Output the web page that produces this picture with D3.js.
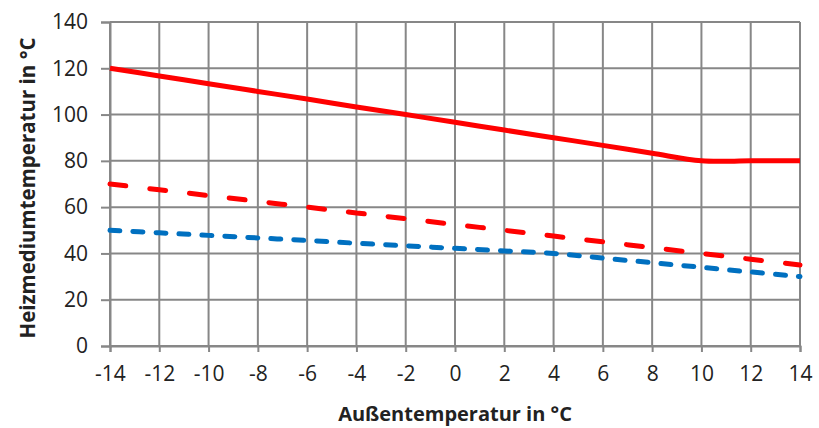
<!DOCTYPE html>
<html>
<head>
<meta charset="utf-8">
<script src="https://cdn.jsdelivr.net/npm/d3@7"></script>
<style>
  body { margin: 0; background: #fff; }
  svg text { font-family: 'Open Sans', 'Liberation Sans', sans-serif; fill: #222; }
</style>
</head>
<body>
<div class="chart"></div>
<script>
// Heizkurve: supply temperature vs outside temperature
var outside = [-14, -12, -10, -8, -6, -4, -2, 0, 2, 4, 6, 8, 10, 12, 14]
var vorlaufHoch = [120, 116.7, 113.3, 110, 106.7, 103.3, 100, 96.7, 93.3, 90, 86.7, 83.3, 80, 80, 80]
var vorlaufMittel = [70, 67.5, 65, 62.5, 60, 57.5, 55, 52.5, 50, 47.5, 45, 42.5, 40, 37.5, 35]
var vorlaufNiedrig = [50, 48.9, 47.8, 46.7, 45.6, 44.4, 43.3, 42.2, 41.1, 40, 38, 36, 34, 32, 30]
var xTicks = [-14, -12, -10, -8, -6, -4, -2, 0, 2, 4, 6, 8, 10, 12, 14]
var yTicks = [0, 20, 40, 60, 80, 100, 120, 140]

var series = [
  {values: vorlaufHoch, color: '#ff0000', dash: null},
  {values: vorlaufMittel, color: '#ff0000', dash: '16,24'},
  {values: vorlaufNiedrig, color: '#0070c0', dash: '10,13'}
]

var W = 819, H = 428
var margin = {top: 22, right: 19, bottom: 82, left: 110}
var width = W - margin.left - margin.right
var height = H - margin.top - margin.bottom

var svg = d3.select('.chart').append('svg').attr('width', W).attr('height', H)
var g = svg.append('g').attr('transform', 'translate(' + margin.left + ',' + margin.top + ')')

var x = d3.scaleLinear().domain([-14, 14]).range([0, width])
var y = d3.scaleLinear().domain([0, 140]).range([height, 0])

// ---- grid ----
var gridColor = '#878787'
g.append('g').selectAll('line').data(yTicks).join('line')
  .attr('x1', 0).attr('x2', width).attr('y1', y).attr('y2', y)
  .attr('stroke', gridColor).attr('stroke-width', 2)
g.append('g').selectAll('line').data(xTicks).join('line')
  .attr('x1', x).attr('x2', x).attr('y1', 0).attr('y2', height)
  .attr('stroke', gridColor).attr('stroke-width', 2)

// ---- axes ----
var xAxis = g.append('g').attr('transform', 'translate(0,' + height + ')')
  .call(d3.axisBottom(x).tickValues(xTicks).tickSize(6).tickPadding(14).tickFormat(d3.format('d')))
var yAxis = g.append('g')
  .call(d3.axisLeft(y).tickValues(yTicks).tickSize(9).tickPadding(13))
;[xAxis, yAxis].forEach(function(a){
  a.selectAll('.domain').attr('stroke', gridColor).attr('stroke-width', 2)
  a.selectAll('.tick line').attr('stroke', gridColor).attr('stroke-width', 2)
  a.selectAll('.tick text').attr('font-size', 21).attr('font-family', null).style('fill', '#222')
})
// plain hyphen minus like the original
xAxis.selectAll('.tick text').text(function(d){ return String(d) })

// ---- lines ----
var line = d3.line()
  .x(function(d, i){ return x(outside[i]) })
  .y(function(d){ return y(d) })
  .curve(d3.curveCatmullRom.alpha(0.5))

series.forEach(function(s){
  g.append('path')
    .attr('d', line(s.values))
    .attr('fill', 'none')
    .attr('stroke', s.color)
    .attr('stroke-width', 5)
    .attr('stroke-linecap', s.dash ? 'round' : 'butt')
    .attr('stroke-linejoin', 'round')
    .attr('stroke-dasharray', s.dash)
})

// ---- axis titles ----
svg.append('text').text('Außentemperatur in °C')
  .attr('x', margin.left + x(0)).attr('y', 421)
  .attr('text-anchor', 'middle').attr('font-size', 20).attr('font-weight', 700)
svg.append('text').text('Heizmediumtemperatur in °C')
  .attr('transform', 'translate(35,' + (margin.top + height / 2 + 4) + ') rotate(-90)')
  .attr('text-anchor', 'middle').attr('font-size', 20.5).attr('font-weight', 700)
</script>
</body>
</html>
